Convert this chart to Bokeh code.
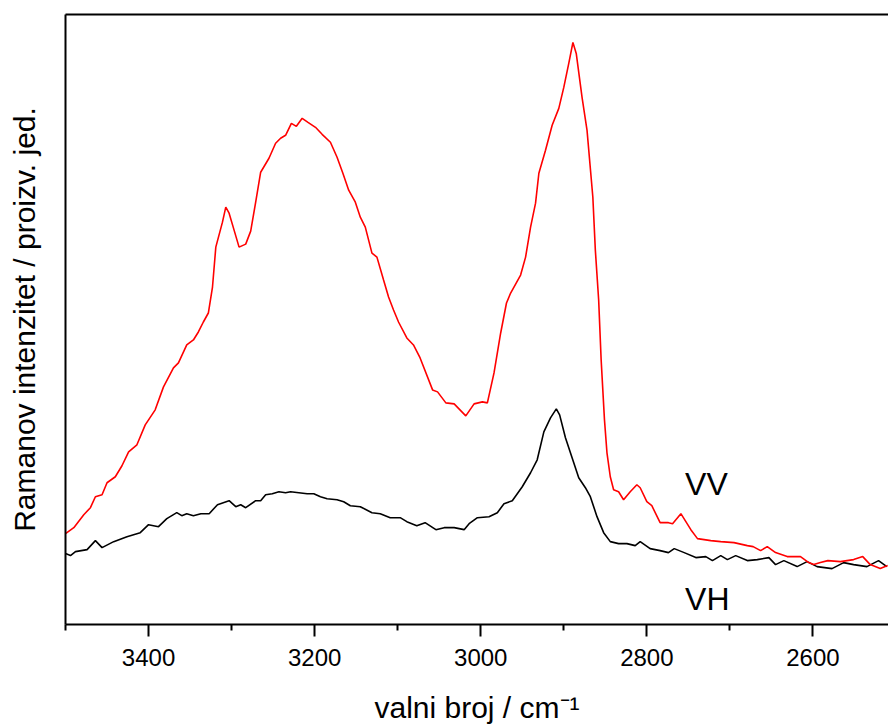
from bokeh.plotting import figure
from bokeh.models import Range1d, LinearAxis, FixedTicker, Label
from bokeh.embed import file_html
from bokeh.resources import INLINE

# VV polarisation (red), wavenumber in cm^-1, intensity in arbitrary units
vv_wn = [3500, 3490, 3478, 3470, 3464, 3456, 3450, 3440, 3432, 3424, 3414, 3404, 3392, 3382,
         3370, 3364, 3354, 3346, 3340, 3334, 3328, 3323, 3319, 3311, 3307, 3303, 3297, 3291,
         3283, 3277, 3271, 3265, 3255, 3247, 3241, 3235, 3228, 3222, 3215, 3208, 3199, 3191,
         3181, 3173, 3166, 3159, 3151, 3145, 3139, 3131, 3125, 3117, 3111, 3105, 3099, 3089,
         3081, 3073, 3058, 3052, 3042, 3032, 3018, 3008, 2998, 2992, 2984, 2976, 2969, 2964,
         2952, 2946, 2940, 2934, 2930, 2922, 2914, 2906, 2900, 2894, 2889, 2885, 2878, 2872,
         2865, 2862, 2858, 2855, 2851, 2848, 2844, 2840, 2834, 2828, 2820, 2812, 2808, 2800,
         2794, 2784, 2774, 2769, 2759, 2747, 2739, 2723, 2711, 2695, 2679, 2672, 2663, 2655,
         2645, 2631, 2615, 2605, 2599, 2591, 2582, 2567, 2551, 2540, 2531, 2519, 2510]
vv_int = [91, 97, 110, 117, 128, 130, 142, 148, 159, 173, 180, 200, 215, 238,
          257, 262, 280, 285, 293, 303, 312, 338, 378, 403, 418, 412, 395, 378,
          381, 394, 423, 453, 467, 482, 487, 490, 502, 499, 507, 503, 498, 491,
          483, 468, 452, 435, 423, 408, 398, 372, 368, 345, 328, 315, 303, 287,
          280, 267, 235, 233, 222, 221, 209, 221, 223, 222, 252, 292, 322, 332,
          350, 368, 398, 422, 452, 475, 500, 517, 538, 562, 583, 572, 528, 495,
          428, 375, 325, 265, 205, 172, 148, 135, 133, 125, 133, 140, 137, 123,
          119, 102, 102, 101, 111, 95, 86, 84, 83, 82, 79, 78, 74, 78,
          72, 68, 68, 62, 60, 62, 64, 63, 65, 68, 60, 56, 59]

# VH polarisation (black)
vh_wn = [3500, 3494, 3488, 3474, 3464, 3456, 3442, 3426, 3410, 3400, 3388, 3378, 3366, 3360,
         3354, 3346, 3337, 3327, 3317, 3303, 3295, 3289, 3283, 3271, 3265, 3259, 3251, 3243,
         3235, 3229, 3219, 3209, 3201, 3193, 3185, 3173, 3165, 3157, 3145, 3131, 3121, 3109,
         3097, 3089, 3077, 3067, 3054, 3044, 3032, 3020, 3014, 3004, 2990, 2980, 2972, 2962,
         2950, 2940, 2932, 2924, 2916, 2909, 2905, 2898, 2890, 2882, 2874, 2868, 2860, 2852,
         2844, 2834, 2824, 2814, 2808, 2796, 2784, 2774, 2767, 2755, 2741, 2729, 2721, 2711,
         2703, 2693, 2679, 2667, 2653, 2645, 2635, 2619, 2607, 2595, 2577, 2563, 2551, 2535,
         2521, 2511]
vh_int = [71, 69, 73, 75, 84, 77, 83, 88, 92, 100, 98, 106, 112, 109,
          111, 109, 111, 111, 120, 124, 118, 120, 117, 124, 124, 130, 131, 133,
          132, 133, 132, 131, 131, 128, 126, 125, 123, 119, 118, 112, 111, 107,
          107, 103, 99, 102, 95, 97, 97, 95, 101, 107, 108, 112, 121, 124,
          138, 152, 165, 193, 207, 216, 210, 187, 167, 147, 137, 128, 108, 92,
          83, 81, 81, 79, 83, 76, 74, 72, 76, 72, 67, 68, 64, 69,
          65, 69, 64, 65, 67, 60, 64, 58, 63, 58, 56, 62, 60, 58,
          64, 58]

major_ticks = [3400, 3200, 3000, 2800, 2600]
minor_ticks = [3500, 3300, 3100, 2900, 2700, 2500]

FONT = "Liberation Sans"

p = figure(width=888, height=726, output_backend="svg", toolbar_location=None,
           x_range=Range1d(3500, 2509), y_range=Range1d(0, 611),
           x_axis_location=None, y_axis_location=None,
           min_border_left=65, min_border_right=0, min_border_top=14, min_border_bottom=101)
p.outline_line_color = None
p.grid.visible = False
p.background_fill_color = "white"
p.border_fill_color = "white"

xaxis = LinearAxis(ticker=FixedTicker(ticks=major_ticks, minor_ticks=minor_ticks),
                   axis_label="valni broj / cm\u207b\u00b9")
xaxis.axis_line_width = 2
xaxis.major_tick_line_width = 2
xaxis.minor_tick_line_width = 2
xaxis.major_tick_in = 0
xaxis.major_tick_out = 12
xaxis.minor_tick_in = 0
xaxis.minor_tick_out = 6
xaxis.major_label_standoff = 12
xaxis.major_label_text_font = FONT
xaxis.major_label_text_font_size = "24px"
xaxis.major_label_text_color = "black"
xaxis.axis_label_standoff = 22
xaxis.axis_label_text_font = FONT
xaxis.axis_label_text_font_size = "30px"
xaxis.axis_label_text_font_style = "normal"
xaxis.axis_label_text_color = "black"
p.add_layout(xaxis, "below")

yaxis = LinearAxis(ticker=FixedTicker(ticks=[]), axis_label="Ramanov intenzitet / proizv. jed.")
yaxis.axis_line_width = 2
yaxis.major_tick_in = 0
yaxis.major_tick_out = 0
yaxis.minor_tick_in = 0
yaxis.minor_tick_out = 0
yaxis.major_label_standoff = 0
yaxis.axis_label_standoff = 25
yaxis.axis_label_text_font = FONT
yaxis.axis_label_text_font_size = "30px"
yaxis.axis_label_text_font_style = "normal"
yaxis.axis_label_text_color = "black"
p.add_layout(yaxis, "left")

topaxis = LinearAxis(ticker=FixedTicker(ticks=[]))
topaxis.axis_line_width = 2
topaxis.major_tick_in = 0
topaxis.major_tick_out = 0
topaxis.minor_tick_in = 0
topaxis.minor_tick_out = 0
topaxis.major_label_standoff = 0
topaxis.axis_label_standoff = 0
p.add_layout(topaxis, "above")

p.line(vh_wn, vh_int, line_color="black", line_width=1.6)
p.line(vv_wn, vv_int, line_color="#ff0000", line_width=1.6)

p.add_layout(Label(x=2754, y=141, text="VV", text_font=FONT, text_font_size="32px",
                   text_baseline="alphabetic", text_align="left", text_color="black"))
p.add_layout(Label(x=2754, y=26, text="VH", text_font=FONT, text_font_size="32px",
                   text_baseline="alphabetic", text_align="left", text_color="black"))

open("out.html", "w").write(file_html(p, INLINE))
